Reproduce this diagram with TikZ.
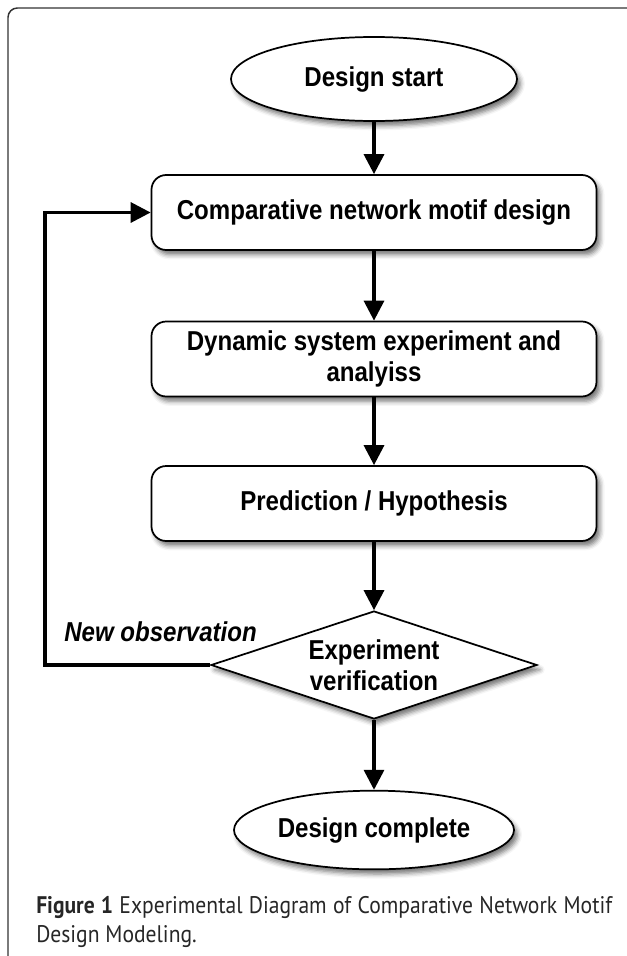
\documentclass[tikz,border=0pt]{standalone}
\usepackage{fontspec}
\newfontfamily\diagfont[FakeStretch=0.88]{Liberation Sans}
\newfontfamily\capfont[FakeStretch=0.9]{PT Sans}
\usetikzlibrary{shapes.geometric,arrows.meta,shadows.blur}
\begin{document}
\begin{tikzpicture}[x=0.75pt,y=-0.75pt,
  every node/.style={font=\diagfont\bfseries\fontsize{20.5}{23}\selectfont},
  shad/.style={blur shadow={shadow xshift=2.5pt,shadow yshift=-3.5pt,shadow blur radius=3.5pt,shadow opacity=55}},
  stepbox/.style={draw,line width=1.3pt,fill=white,rounded corners=11pt,minimum width=333.75pt,minimum height=56.25pt,align=center,shad},
  term/.style={draw,ellipse,line width=1.3pt,fill=white,inner sep=0pt,shad},
  dec/.style={draw,diamond,aspect=3,line width=1.3pt,fill=white,inner sep=0pt,minimum width=244.5pt,minimum height=81pt,align=center,shad},
  arr/.style={line width=2.5pt,-{Triangle[length=15pt,width=15pt]}},
]
\useasboundingbox (0,0) rectangle (627,956);
\begin{scope}
\clip (0,0) rectangle (627,956);
\draw[line width=1.1pt, black!80, rounded corners=7pt] (8,990) -- (8,8) -- (660,8);
\end{scope}

\node[term, minimum width=214.5pt, minimum height=63pt] (s) at (374,79) {Design start};
\node[stepbox] (b1) at (374,212.5) {Comparative network motif design};
\node[stepbox] (b2) at (374,359) {Dynamic system experiment and\\analyiss};
\node[stepbox] (b3) at (374,503.5) {Prediction / Hypothesis};
\node[dec] (d) at (374,665) {Experiment\\verification};
\node[term, minimum width=210pt, minimum height=59pt] (e) at (374,830) {Design complete};
\coordinate (fb) at (45,440);
\node[anchor=west, inner sep=0pt, font=\diagfont\bfseries\itshape\fontsize{20.5}{23}\selectfont] (no) at (64,632) {New observation};

\draw[arr] (s) -- (b1);
\draw[arr] (b1) -- (b2);
\draw[arr] (b2) -- (b3);
\draw[arr] (b3) -- (d);
\draw[arr] (d) -- (e);
\draw[arr] (d.west) -- (d.west -| fb) |- (b1.west);

\node[anchor=north west, inner sep=0pt, text width=432pt, align=justify,
  font=\capfont\fontsize{18}{21.75}\selectfont, text=black!85] (cap) at (36,896)
  {\textbf{Figure 1} Experimental Diagram of Comparative Network Motif\linebreak Design Modeling.};
\end{tikzpicture}
\end{document}
